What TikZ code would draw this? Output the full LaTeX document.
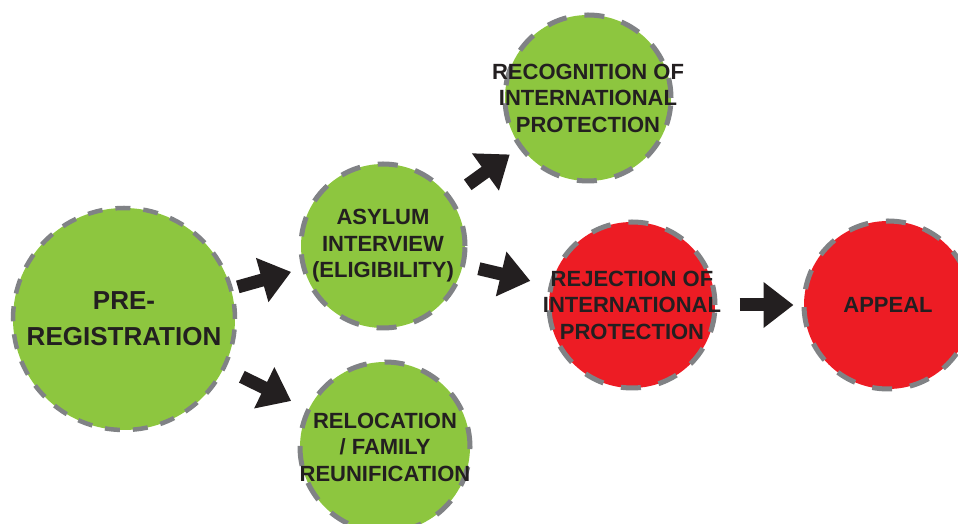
\documentclass[tikz,border=0pt]{standalone}
\usepackage{fontspec}
\setmainfont{Liberation Sans}
\usetikzlibrary{arrows.meta}

\definecolor{stagegreen}{HTML}{8DC63F}
\definecolor{stagered}{HTML}{ED1C24}
\definecolor{dashgray}{HTML}{808285}
\definecolor{inkblack}{HTML}{231F20}

\tikzset{
		stage/.style    = {shape=circle, draw=dashgray, inner sep=0pt,
				line width=5pt, dash pattern=on 20pt off 18pt},
		granted/.style  = {stage, fill=stagegreen},
		refused/.style  = {stage, fill=stagered},
		caption/.style  = {align=center, text=inkblack,
				font=\bfseries\fontsize{22}{26.5}\selectfont},
		flow/.style     = {draw=inkblack, line width=13pt,
				-{Triangle[length=30pt,width=44pt]}}
	}

\begin{document}
\begin{tikzpicture}
				[x = 1pt, y = 1pt]
				\useasboundingbox (0,0) rectangle (958,524);
				\node [granted, minimum size=222pt, line width=4.5pt,
					dash pattern=on 15pt off 13pt] (pre) at (124,205) {};
				\node [granted, minimum size=164pt] (asylum) at (383,278) {};
				\node [granted, minimum size=170pt] (reloc)  at (385,77) {};
				\node [granted, minimum size=166pt] (recog)  at (588,426) {};
				\node [refused, minimum size=166pt] (reject) at (632,219) {};
				\node [refused, minimum size=168pt] (appeal) at (888,219) {};

				\node [caption, font=\bfseries\fontsize{26}{36}\selectfont] (pre-text) at (pre) {PRE-\\REGISTRATION};
				\node [caption] (asylum-text) at (asylum) {ASYLUM\\INTERVIEW\\(ELIGIBILITY)};
				\node [caption] (reloc-text)  at (reloc)  {RELOCATION\\/ FAMILY\\REUNIFICATION};
				\node [caption] (recog-text)  at (recog)  {RECOGNITION OF\\INTERNATIONAL\\PROTECTION};
				\node [caption] (reject-text) at (reject) {REJECTION OF\\INTERNATIONAL\\PROTECTION};
				\node [caption] (appeal-text) at (appeal) {APPEAL};

				\draw [flow, shorten <=5pt,  shorten >=11pt] (pre) -- (asylum);
				\draw [flow, shorten <=18pt, shorten >=17pt] (pre) -- (reloc);
				\draw [flow, shorten <=20pt, shorten >=11pt] (asylum) -- (recog);
				\draw [flow, shorten <=14pt, shorten >=19pt] (asylum) -- (reject);
				\draw [flow, shorten <=22pt, shorten >=8pt]  (reject) -- (appeal);
			\end{tikzpicture}
\end{document}
